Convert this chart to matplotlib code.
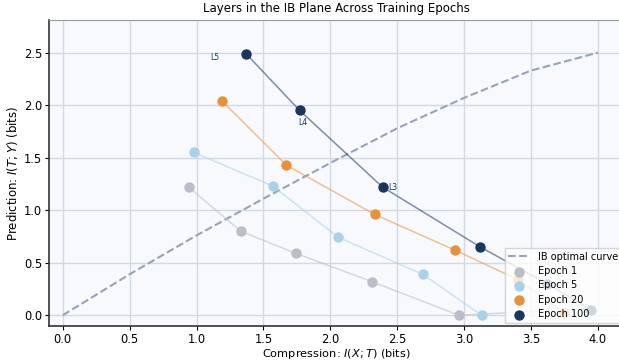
import numpy as np
import matplotlib
matplotlib.use('Agg')
import matplotlib.pyplot as plt

# IB optimal curve
ib_x = [0.0, 0.5, 1.0, 1.5, 2.0, 2.5, 3.0, 3.5, 4.0]
ib_y = [0.0, 0.39, 0.76, 1.11, 1.45, 1.78, 2.07, 2.33, 2.5]

# layer positions per epoch, I(X;T) and I(T;Y)
epochs = ['Epoch 1', 'Epoch 5', 'Epoch 20', 'Epoch 100']
ixt = {
    'Epoch 1': [0.94, 1.33, 1.74, 2.31, 2.96, 3.92],
    'Epoch 5': [0.98, 1.57, 2.06, 2.69, 3.13],
    'Epoch 20': [1.19, 1.67, 2.33, 2.93, 3.40, 3.75],
    'Epoch 100': [1.37, 1.77, 2.39, 3.12, 3.62, 3.95],
}
ity = {
    'Epoch 1': [1.22, 0.80, 0.59, 0.32, 0.0, 0.06],
    'Epoch 5': [1.55, 1.23, 0.74, 0.39, 0.0],
    'Epoch 20': [2.04, 1.43, 0.96, 0.62, 0.34, 0.02],
    'Epoch 100': [2.49, 1.95, 1.22, 0.65, 0.30, 0.05],
}
layer_labels = ['L5', 'L4', 'L3']
colors = ['#b9bec8', '#a9d2e8', '#e8913a', '#1b365d']

fig = plt.figure(figsize=(6.19, 3.62), dpi=100)
ax = fig.add_axes([0.0792, 0.0994, 0.93, 0.845])
ax.set_facecolor('#f7f9fc')

ax.plot(ib_x, ib_y, ls='--', color='#97a3b7', lw=1.5, label='IB optimal curve', zorder=2)

for ep, c in zip(epochs, colors):
    ax.plot(ixt[ep], ity[ep], color=c, lw=1.1, alpha=0.55, zorder=3)
    ax.scatter(ixt[ep], ity[ep], color=c, s=42, label=ep, zorder=4)

# layer names on the last epoch
offsets = [(-26, -3), (-1, -9), (4, 0)]
for i, lab in enumerate(layer_labels):
    ax.annotate(lab, (ixt['Epoch 100'][i], ity['Epoch 100'][i]), xytext=offsets[i],
                textcoords='offset points', fontsize=5.5, color='#1b365d',
                ha='left', va='center')

ax.set_xlim(-0.103, 4.2)
ax.set_ylim(-0.103, 2.81)
ax.set_xticks(np.arange(0, 4.01, 0.5))
ax.set_yticks(np.arange(0, 2.51, 0.5))
ax.grid(True, color='#d3d9e3', lw=1.0)
ax.set_axisbelow(True)
ax.tick_params(labelsize=8.3, pad=2, length=3)
ax.spines['right'].set_visible(False)
ax.spines['top'].set_color('#999999')
ax.spines['left'].set_color('#333333')
ax.spines['bottom'].set_color('#333333')
ax.spines['left'].set_linewidth(1.2)
ax.spines['bottom'].set_linewidth(1.2)

ax.set_title('Layers in the IB Plane Across Training Epochs', fontsize=8.5, pad=6)
ax.set_xlabel('Compression: $I(X;T)$ (bits)', fontsize=8.2)
ax.xaxis.set_label_coords(0.5, -0.068)
ax.set_ylabel('Prediction: $I(T;Y)$ (bits)', fontsize=8.5, labelpad=3)
ax.legend(loc='lower right', fontsize=7, framealpha=0.8, borderaxespad=0.3,
          handlelength=2.2, labelspacing=0.45, fancybox=False, edgecolor='#cccccc')

fig.savefig('out.png', dpi=100)
